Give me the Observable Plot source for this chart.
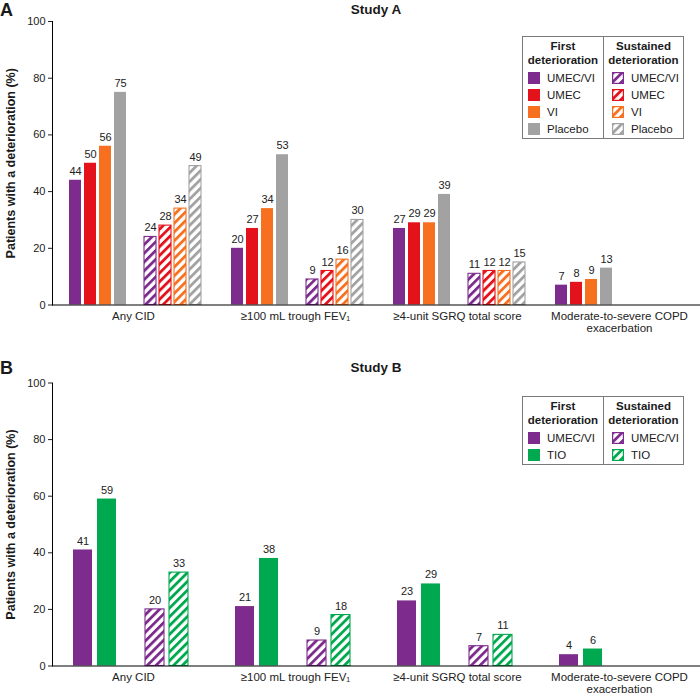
<!DOCTYPE html>
<html><head><meta charset="utf-8">
<script src="https://cdn.jsdelivr.net/npm/d3@7"></script>
<script src="https://cdn.jsdelivr.net/npm/@observablehq/plot@0.6"></script>
<style>
body{margin:0;background:#fff;font-family:"Liberation Sans",Arial,sans-serif;color:#1a1a1a}
#wrap{position:relative;width:700px;height:694px;overflow:hidden}
.panel{position:absolute;left:0}
.tag{position:absolute;left:0;font-weight:bold;font-size:18px;line-height:18px}
.title{position:absolute;font-weight:bold;font-size:13.5px;line-height:16px;transform:translateX(-50%);white-space:nowrap}
.legend{position:absolute;left:522px;width:162px;box-sizing:border-box;border:1px solid #7a7a7a;display:flex;background:#fff}
.col{box-sizing:border-box;padding-top:2px}
.col.l{width:80px;padding-left:5px}
.col.r{width:80px;border-left:1px solid #7a7a7a;padding-left:8px}
.hdr{font-weight:bold;font-size:11.5px;line-height:14px;text-align:center;margin-left:-5px;margin-bottom:2.5px;white-space:nowrap}
.col.r .hdr{margin-left:-8px}
.row{height:17px;display:flex;align-items:center;font-size:11.5px;white-space:nowrap}
.row svg{margin-right:7px;flex:none}
g[aria-label="y-axis label"] text{font-weight:bold;font-size:12.5px;fill:#1a1a1a}
</style></head>
<body><div id="wrap"></div>
<script>
// ---- data ----
const categories = ["Any CID", "≥100 mL trough FEV₁", "≥4-unit SGRQ total score", "Moderate-to-severe COPD exacerbation"];
const categoryLabels = ["Any CID", "≥100 mL trough FEV₁", "≥4-unit SGRQ total score", "Moderate-to-severe COPD\nexacerbation"];
const yTicks = [0, 20, 40, 60, 80, 100];

const treatmentsA = ["UMEC/VI", "UMEC", "VI", "Placebo"];
const aFirstUmecVi = [44, 20, 27, 7];
const aFirstUmec = [50, 27, 29, 8];
const aFirstVi = [56, 34, 29, 9];
const aFirstPlacebo = [75, 53, 39, 13];
const aSustUmecVi = [24, 9, 11, null];
const aSustUmec = [28, 12, 12, null];
const aSustVi = [34, 16, 12, null];
const aSustPlacebo = [49, 30, 15, null];

const treatmentsB = ["UMEC/VI", "TIO"];
const bFirstUmecVi = [41, 21, 23, 4];
const bFirstTio = [59, 38, 29, 6];
const bSustUmecVi = [20, 9, 7, null];
const bSustTio = [33, 18, 11, null];

const colorOf = {"UMEC/VI": "#7D2C8D", "UMEC": "#E3121B", "VI": "#F6701F", "Placebo": "#A2A2A2", "TIO": "#00A84F"};
const hatchId = {"UMEC/VI": "h-umecvi", "UMEC": "h-umec", "VI": "h-vi", "Placebo": "h-placebo", "TIO": "h-tio"};

// ---- hatch patterns ----
const ns = "http://www.w3.org/2000/svg";
const defsSvg = document.createElementNS(ns, "svg");
defsSvg.setAttribute("width", 0); defsSvg.setAttribute("height", 0);
defsSvg.style.position = "absolute";
const defs = document.createElementNS(ns, "defs");
for (const k of Object.keys(colorOf)) {
  const p = document.createElementNS(ns, "pattern");
  p.setAttribute("id", hatchId[k]);
  p.setAttribute("patternUnits", "userSpaceOnUse");
  p.setAttribute("width", 6.2); p.setAttribute("height", 6.2);
  p.setAttribute("patternTransform", "rotate(45)");
  const bg = document.createElementNS(ns, "rect");
  bg.setAttribute("width", 6.2); bg.setAttribute("height", 6.2); bg.setAttribute("fill", "#fff");
  const st = document.createElementNS(ns, "rect");
  st.setAttribute("width", 2.8); st.setAttribute("height", 6.2); st.setAttribute("fill", colorOf[k]);
  p.append(bg, st); defs.append(p);
}
defsSvg.append(defs);
document.body.prepend(defsSvg);

function buildRows(treatments, firstArrays, sustArrays) {
  const rows = [];
  categories.forEach((c, i) => {
    treatments.forEach((t, j) => {
      if (firstArrays[j][i] != null) rows.push({cat: c, slot: "F " + t, treat: t, type: "first", value: firstArrays[j][i]});
      if (sustArrays[j][i] != null) rows.push({cat: c, slot: "S " + t, treat: t, type: "sust", value: sustArrays[j][i]});
    });
  });
  return rows;
}

function panel(rows, treatments, opts) {
  const slots = [...treatments.map(t => "F " + t), "gap", ...treatments.map(t => "S " + t)];
  return Plot.plot({
    width: 700, height: opts.height,
    marginLeft: 51, marginRight: 0, marginTop: opts.marginTop, marginBottom: opts.marginBottom,
    style: {fontFamily: "Liberation Sans, Arial, sans-serif", fontSize: "11px", color: "#222", background: "transparent"},
    fx: {domain: categories, padding: 0, label: null},
    x: {domain: slots, paddingInner: opts.padInner, paddingOuter: opts.padOuter, align: opts.align, axis: null},
    y: {domain: [0, 100]},
    color: {type: "identity"},
    marks: [
      Plot.frame({anchor: "left", facetAnchor: "left", stroke: "#000"}),
      Plot.axisY({ticks: yTicks, tickSize: 4, tickPadding: 3, fontSize: 11,
        label: "Patients with a deterioration (%)", labelArrow: "none", labelAnchor: "center", labelOffset: 46}),
      Plot.axisFx({anchor: "bottom", tickSize: 0, tickPadding: 6, fontSize: 11.5, lineHeight: 1.05, label: null,
        tickFormat: d => categoryLabels[categories.indexOf(d)]}),
      Plot.barY(rows, {fx: "cat", x: "slot", y: "value",
        fill: d => d.type === "first" ? colorOf[d.treat] : `url(#${hatchId[d.treat]})`,
        stroke: d => d.type === "first" ? "none" : colorOf[d.treat],
        strokeWidth: 1.1}),
      Plot.text(rows, {fx: "cat", x: "slot", y: "value", text: d => String(d.value), dy: -9, fontSize: 11, fill: "#222"}),
      Plot.ruleY([0], {stroke: "#000", strokeWidth: 1})
    ]
  });
}

const wrap = document.getElementById("wrap");

const rowsA = buildRows(treatmentsA, [aFirstUmecVi, aFirstUmec, aFirstVi, aFirstPlacebo], [aSustUmecVi, aSustUmec, aSustVi, aSustPlacebo]);
const rowsB = buildRows(treatmentsB, [bFirstUmecVi, bFirstTio], [bSustUmecVi, bSustTio]);

const pA = panel(rowsA, treatmentsA, {height: 345, marginTop: 21, marginBottom: 40.5, padInner: 0.2, padOuter: 0.727, align: 0.55});
pA.classList.add("panel"); pA.style.top = "0px";
const pB = panel(rowsB, treatmentsB, {height: 349, marginTop: 37.5, marginBottom: 28.5, padInner: 0.19, padOuter: 0.887, align: 0.46});
pB.classList.add("panel"); pB.style.top = "345px";
wrap.append(pA, pB);

function addText(cls, text, left, top) {
  const d = document.createElement("div");
  d.className = cls; d.textContent = text;
  if (left != null) d.style.left = left + "px";
  d.style.top = top + "px";
  wrap.append(d);
}
addText("tag", "A", null, 1);
addText("title", "Study A", 376, 2);
addText("tag", "B", null, 359);
addText("title", "Study B", 376, 360);

function swatch(t, hatched) {
  const s = document.createElementNS(ns, "svg");
  s.setAttribute("width", 12); s.setAttribute("height", 12);
  const r = document.createElementNS(ns, "rect");
  if (hatched) {
    r.setAttribute("x", 0.6); r.setAttribute("y", 0.6); r.setAttribute("width", 10.8); r.setAttribute("height", 10.8);
    r.setAttribute("fill", `url(#${hatchId[t]})`); r.setAttribute("stroke", colorOf[t]); r.setAttribute("stroke-width", 1.2);
  } else {
    r.setAttribute("width", 12); r.setAttribute("height", 12); r.setAttribute("fill", colorOf[t]);
  }
  s.append(r);
  return s;
}

function legend(treatments, top) {
  const box = document.createElement("div");
  box.className = "legend"; box.style.top = top + "px";
  [["l", "First", false], ["r", "Sustained", true]].forEach(([cls, head, hatched]) => {
    const col = document.createElement("div");
    col.className = "col " + cls;
    const h = document.createElement("div");
    h.className = "hdr"; h.innerHTML = head + "<br>deterioration";
    col.append(h);
    treatments.forEach(t => {
      const row = document.createElement("div");
      row.className = "row";
      row.append(swatch(t, hatched), document.createTextNode(t));
      col.append(row);
    });
    box.append(col);
  });
  wrap.append(box);
}
legend(treatmentsA, 36);
legend(treatmentsB, 396);
</script></body></html>
